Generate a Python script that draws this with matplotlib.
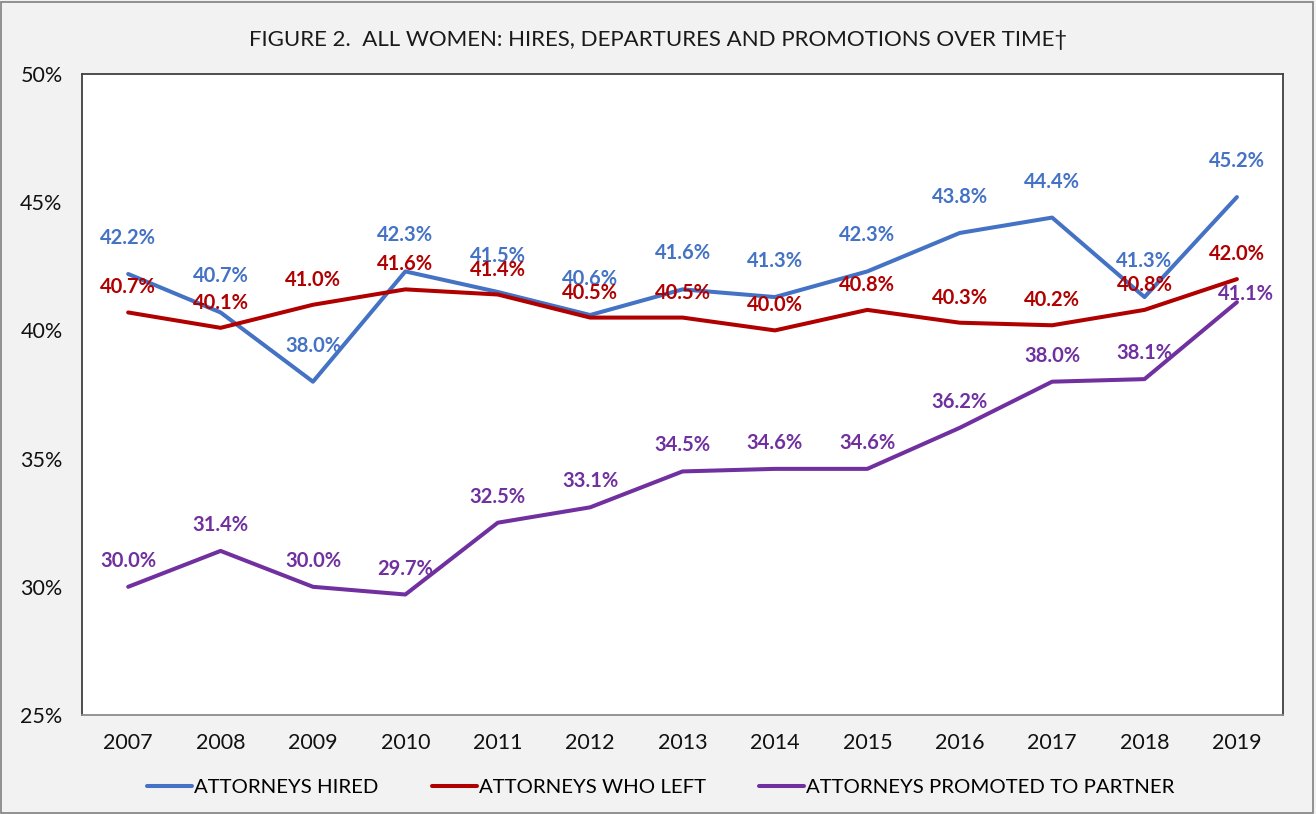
import matplotlib
matplotlib.use("Agg")
import matplotlib.pyplot as plt
from matplotlib.patches import Rectangle

plt.rcParams['font.family'] = ['Lato', 'DejaVu Sans']

years = ["2007", "2008", "2009", "2010", "2011", "2012", "2013",
         "2014", "2015", "2016", "2017", "2018", "2019"]
hired = [42.2, 40.7, 38.0, 42.3, 41.5, 40.6, 41.6, 41.3, 42.3, 43.8, 44.4, 41.3, 45.2]
left = [40.7, 40.1, 41.0, 41.6, 41.4, 40.5, 40.5, 40.0, 40.8, 40.3, 40.2, 40.8, 42.0]
promoted = [30.0, 31.4, 30.0, 29.7, 32.5, 33.1, 34.5, 34.6, 34.6, 36.2, 38.0, 38.1, 41.1]
yticks = [25, 30, 35, 40, 45, 50]

blue = "#4472C4"
red = "#B00000"
purple = "#7030A0"

fig = plt.figure(figsize=(13.16, 8.14), dpi=100, facecolor="#F2F2F2")
ax = fig.add_axes([0.0623, 0.1216, 0.9127, 0.7875])
ax.set_facecolor("white")

x = list(range(len(years)))
series = [(hired, blue, "ATTORNEYS HIRED", 36),
          (left, red, "ATTORNEYS WHO LEFT", 25),
          (promoted, purple, "ATTORNEYS PROMOTED TO PARTNER", 26)]

for vals, col, name, off in series:
    ax.plot(x, vals, color=col, lw=2.9, label=name, solid_capstyle="round")
    for i, v in enumerate(vals):
        dx, dy = 0, off
        # last promoted label was nudged right/down in the original
        if name.startswith("ATTORNEYS PROMOTED") and i == len(vals) - 1:
            dx, dy = 9, 8
        ax.annotate(f"{v:.1f}%", (i, v), xytext=(dx * 0.72, dy * 0.72),
                    textcoords="offset points", ha="center", va="center",
                    color=col, fontsize=14.5, fontweight="bold")

ax.set_xlim(-0.5, len(years) - 0.5)
ax.set_ylim(25, 50)
ax.set_yticks(yticks)
ax.set_yticklabels([f"{t}%" for t in yticks])
ax.set_xticks(x)
ax.set_xticklabels(years)
ax.tick_params(axis="both", length=0, labelsize=15.5, colors="#111111")
ax.tick_params(axis="y", pad=14)
ax.tick_params(axis="x", pad=13)
for s in ["left", "top", "right"]:
    ax.spines[s].set_color("#404040")
    ax.spines[s].set_linewidth(1.3)
ax.spines["bottom"].set_color("#8C8C8C")
ax.spines["bottom"].set_linewidth(1.3)

fig.text(0.5, 0.951, "FIGURE 2.  ALL WOMEN: HIRES, DEPARTURES AND PROMOTIONS OVER TIME\u2020",
         ha="center", va="center", fontsize=16, color="#1A1A1A")

fig.legend(loc="center", bbox_to_anchor=(0.502, 0.033), ncol=3, frameon=False,
           fontsize=14.7, handlelength=2.2, handletextpad=0.1, columnspacing=2.6)

fig.patches.append(Rectangle((0.001, 0.001), 0.997, 0.997, transform=fig.transFigure,
                             fill=False, edgecolor="#808080", lw=1.2))

fig.savefig("out.png", dpi=100, facecolor=fig.get_facecolor())
